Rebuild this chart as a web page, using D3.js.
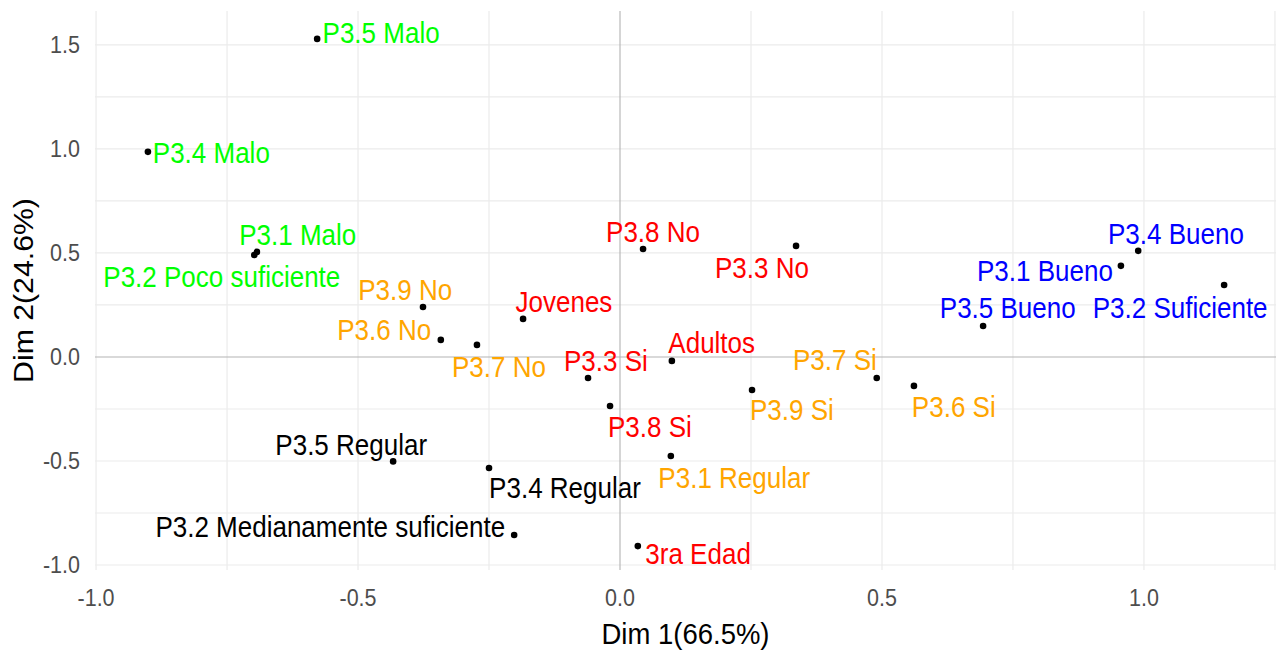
<!DOCTYPE html>
<html>
<head>
<meta charset="utf-8">
<script src="https://cdn.jsdelivr.net/npm/d3@7"></script>
<style>
  body { margin: 0; background: #fff; }
  text { font-family: "Liberation Sans", Arial, sans-serif; }
</style>
</head>
<body>
<div id="chart-area"></div>
<script>
// categories (labels), their group, coordinates, and repelled label positions
let labels = ["P3.5 Malo", "P3.4 Malo", "P3.1 Malo", "P3.2 Poco suficiente",
  "P3.9 No", "P3.6 No", "P3.7 No", "Jovenes", "P3.8 No", "P3.3 No", "Adultos",
  "P3.3 Si", "P3.8 Si", "P3.1 Regular", "3ra Edad", "P3.4 Regular", "P3.5 Regular",
  "P3.2 Medianamente suficiente", "P3.7 Si", "P3.9 Si", "P3.6 Si",
  "P3.4 Bueno", "P3.1 Bueno", "P3.5 Bueno", "P3.2 Suficiente"];
let groups = ["malo", "malo", "malo", "malo",
  "sino", "sino", "sino", "edad", "edad", "edad", "edad",
  "edad", "edad", "sino", "edad", "regular", "regular",
  "regular", "sino", "sino", "sino",
  "bueno", "bueno", "bueno", "bueno"];
let dim1 = [-0.578, -0.901, -0.693, -0.698,
  -0.376, -0.342, -0.273, -0.185, 0.044, 0.336, 0.099,
  -0.061, -0.019, 0.097, 0.034, -0.250, -0.433,
  -0.202, 0.490, 0.252, 0.561,
  0.989, 0.956, 0.693, 1.153];
let dim2 = [1.529, 0.986, 0.505, 0.490,
  0.240, 0.082, 0.058, 0.183, 0.519, 0.534, -0.019,
  -0.101, -0.236, -0.476, -0.909, -0.534, -0.502,
  -0.856, -0.101, -0.159, -0.139,
  0.510, 0.438, 0.149, 0.346];
let labDim1 = [-0.456, -0.780, -0.615, -0.760,
  -0.410, -0.450, -0.231, -0.107, 0.063, 0.271, 0.175,
  -0.027, 0.057, 0.218, 0.149, -0.105, -0.513,
  -0.553, 0.410, 0.328, 0.637,
  1.061, 0.811, 0.740, 1.069];
let labDim2 = [1.558, 0.981, 0.587, 0.385,
  0.322, 0.130, -0.048, 0.264, 0.601, 0.428, 0.067,
  -0.019, -0.337, -0.582, -0.947, -0.630, -0.423,
  -0.817, -0.014, -0.255, -0.240,
  0.591, 0.413, 0.236, 0.236];

let xTicks = [-1.0, -0.5, 0.0, 0.5, 1.0];
let xTickLabels = ["-1.0", "-0.5", "0.0", "0.5", "1.0"];
let yTicks = [-1.0, -0.5, 0.0, 0.5, 1.0, 1.5];
let yTickLabels = ["-1.0", "-0.5", "0.0", "0.5", "1.0", "1.5"];
let xGrid = [-1.0, -0.75, -0.5, -0.25, 0.25, 0.5, 0.75, 1.0, 1.25];
let yGrid = [-1.0, -0.75, -0.5, -0.25, 0.25, 0.5, 0.75, 1.0, 1.25, 1.5];

let colors = { malo: "#00ff00", sino: "#ffa500", edad: "#ff0000", regular: "#000000", bueno: "#0000ff" };

let data = labels.map(function(d, i) {
  return { label: d, group: groups[i], x: dim1[i], y: dim2[i], lx: labDim1[i], ly: labDim2[i] };
});

let W = 1276, H = 650;
let p = { left: 95, right: 1276, top: 11, bottom: 570 }; // panel
let sy = 1.1; // picture is slightly taller than wide

let svg = d3.select("#chart-area").append("svg")
    .attr("width", W).attr("height", H);

let x = d3.scaleLinear().domain([-1.002, 1.252]).range([p.left, p.right]);
let y = d3.scaleLinear().domain([-1.024, 1.663]).range([p.bottom, p.top]);

// grid
svg.append("g").selectAll("line").data(xGrid).enter().append("line")
    .attr("x1", d => x(d)).attr("x2", d => x(d))
    .attr("y1", p.top).attr("y2", p.bottom)
    .attr("stroke", "#ebebeb").attr("stroke-width", 1.2);
svg.append("g").selectAll("line").data(yGrid).enter().append("line")
    .attr("x1", p.left).attr("x2", p.right)
    .attr("y1", d => y(d)).attr("y2", d => y(d))
    .attr("stroke", "#ebebeb").attr("stroke-width", 1.2);

// zero lines
svg.append("line")
    .attr("x1", x(0)).attr("x2", x(0)).attr("y1", p.top).attr("y2", p.bottom)
    .attr("stroke", "#b3b3b3").attr("stroke-width", 1.1);
svg.append("line")
    .attr("x1", p.left).attr("x2", p.right).attr("y1", y(0)).attr("y2", y(0))
    .attr("stroke", "#b3b3b3").attr("stroke-width", 1.1);

// tick labels
svg.append("g").selectAll("text").data(xTicks).enter().append("text")
    .attr("transform", (d, i) => "translate(" + x(d) + ",598) scale(1," + sy + ")")
    .attr("dy", "0.35em")
    .attr("text-anchor", "middle")
    .attr("font-size", "21.5px")
    .attr("fill", "#4d4d4d")
    .text((d, i) => xTickLabels[i]);
svg.append("g").selectAll("text").data(yTicks).enter().append("text")
    .attr("transform", (d, i) => "translate(80," + y(d) + ") scale(1," + sy + ")")
    .attr("dy", "0.35em")
    .attr("text-anchor", "end")
    .attr("font-size", "21.5px")
    .attr("fill", "#4d4d4d")
    .text((d, i) => yTickLabels[i]);

// axis titles
svg.append("text")
    .attr("transform", "translate(" + ((p.left + p.right) / 2) + ",633) scale(1," + sy + ")")
    .attr("dy", "0.35em")
    .attr("text-anchor", "middle")
    .attr("font-size", "27.5px")
    .text("Dim 1(66.5%)");
svg.append("text")
    .attr("transform", "translate(23," + ((p.top + p.bottom) / 2) + ") scale(1," + sy + ") rotate(-90)")
    .attr("dy", "0.35em")
    .attr("text-anchor", "middle")
    .attr("font-size", "27.5px")
    .text("Dim 2(24.6%)");

// points
svg.append("g").selectAll("circle").data(data).enter().append("circle")
    .attr("cx", d => x(d.x)).attr("cy", d => y(d.y))
    .attr("r", 3.3).attr("fill", "#000");

// labels
svg.append("g").selectAll("text").data(data).enter().append("text")
    .attr("transform", d => "translate(" + x(d.lx) + "," + y(d.ly) + ") scale(1," + sy + ")")
    .attr("dy", "0.35em")
    .attr("text-anchor", "middle")
    .attr("font-size", "26px")
    .attr("fill", d => colors[d.group])
    .text(d => d.label);
</script>
</body>
</html>
